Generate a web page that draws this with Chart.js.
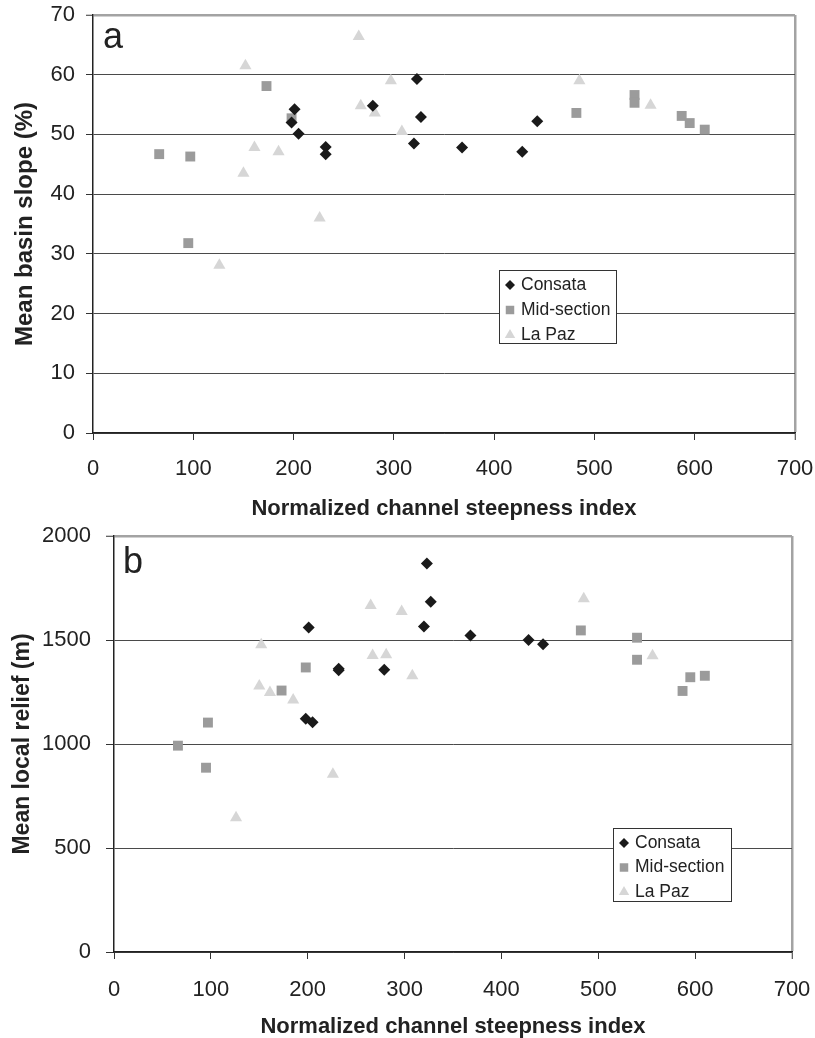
<!DOCTYPE html>
<html>
<head>
<meta charset="utf-8">
<script src="https://cdn.jsdelivr.net/npm/chart.js@4"></script>
<style>
  body { margin: 0; background: #fff; }
  canvas { display: block; }
</style>
</head>
<body>
<canvas id="slopeChart" width="815" height="520"></canvas>
<canvas id="reliefChart" width="815" height="518"></canvas>
<script>
// normalized channel steepness (same basins in both panels)
var consataKsn = [198, 201, 205, 232, 232, 279, 320, 323, 327, 368, 428, 443];
var consataSlope = [52.0, 54.2, 50.1, 47.9, 46.7, 54.8, 48.5, 59.3, 52.9, 47.8, 47.1, 52.2];
var consataRelief = [1121, 1560, 1105, 1362, 1355, 1357, 1565, 1868, 1684, 1522, 1500, 1480];

var midKsn = [66, 97, 95, 173, 198, 482, 540, 540, 587, 595, 610];
var midSlope = [46.7, 46.3, 31.8, 58.1, 52.7, 53.6, 56.6, 55.3, 53.1, 51.9, 50.8];
var midRelief = [992, 1103, 886, 1257, 1368, 1546, 1511, 1405, 1255, 1321, 1328];

var lapazKsn = [126, 150, 152, 161, 185, 226, 265, 267, 281, 297, 308, 485, 556];
var lapazSlope = [28.1, 43.5, 61.5, 47.8, 47.1, 36.0, 66.4, 54.8, 53.6, 59.0, 50.5, 59.0, 54.9];
var lapazRelief = [645, 1279, 1477, 1247, 1212, 855, 1666, 1425, 1429, 1637, 1328, 1698, 1424];

var seriesNames = ['Consata', 'Mid-section', 'La Paz'];
var xTitle = 'Normalized channel steepness index';

function pts(xs, ys) {
    return xs.map(function (x, i) { return { x: x, y: ys[i] }; });
}

function makeDatasets(a, b, c) {
    return [
        { label: seriesNames[0], data: a, pointStyle: 'rectRot', pointRadius: 6, backgroundColor: '#1a1a1a', borderWidth: 0 },
        { label: seriesNames[1], data: b, pointStyle: 'rect', pointRadius: 7, backgroundColor: '#9b9b9b', borderWidth: 0 },
        { label: seriesNames[2], data: c, pointStyle: 'triangle', pointRadius: 7, backgroundColor: '#d6d6d6', borderWidth: 0 }
    ];
}

// panel letter + boxed legend drawn inside the plot
var insetPlugin = {
    id: 'inset',
    afterDraw: function (chart, args, o) {
        var ctx = chart.ctx;
        ctx.save();
        ctx.fillStyle = '#222';
        ctx.font = '36px "Liberation Sans", Arial, sans-serif';
        ctx.textBaseline = 'alphabetic';
        ctx.fillText(o.letter, o.letterX, o.letterY);

        ctx.fillStyle = '#fff';
        ctx.fillRect(o.box[0], o.box[1], o.box[2], o.box[3]);
        ctx.strokeStyle = '#333';
        ctx.lineWidth = 1;
        ctx.strokeRect(o.box[0] + 0.5, o.box[1] + 0.5, o.box[2], o.box[3]);

        ctx.font = '17.5px "Liberation Sans", Arial, sans-serif';
        ctx.textBaseline = 'middle';
        chart.data.datasets.forEach(function (ds, i) {
            var y = o.rowY + i * o.rowGap;
            ctx.fillStyle = ds.backgroundColor;
            Chart.helpers.drawPoint(ctx, { pointStyle: ds.pointStyle, radius: ds.pointRadius - 1, rotation: 0, borderWidth: 0 }, o.markX, y);
            ctx.fillStyle = '#222';
            ctx.fillText(ds.label, o.textX, y);
        });
        ctx.restore();
    }
};

function noPad(s) {
    s.paddingTop = 0; s.paddingBottom = 0; s.paddingLeft = 0; s.paddingRight = 0;
}

function buildChart(id, datasets, cfg) {
    var tickFont = { family: '"Liberation Sans", Arial, sans-serif', size: 22 };
    return new Chart(document.getElementById(id), {
        type: 'scatter',
        data: { datasets: datasets },
        plugins: [insetPlugin],
        options: {
            responsive: false,
            animation: false,
            layout: { padding: { left: 0, right: cfg.padRight, top: cfg.padTop, bottom: 0 } },
            plugins: {
                legend: { display: false },
                tooltip: { enabled: false },
                inset: cfg.inset
            },
            scales: {
                x: {
                    type: 'linear', min: 0, max: 700,
                    ticks: { stepSize: 100, color: '#222', font: tickFont, padding: cfg.xPad, maxRotation: 0,
                        callback: function (v) { return String(v); } },
                    grid: {
                        color: function (c) { return c.tick && c.tick.value === 700 ? '#a3a3a3' : 'rgba(0,0,0,0)'; },
                        lineWidth: function (c) { return c.tick && c.tick.value === 700 ? 2.5 : 1; },
                        tickColor: '#333', tickLength: 7, tickWidth: 1
                    },
                    border: { color: '#222', width: 1.5 },
                    title: {
                        display: true, text: xTitle, color: '#222',
                        font: { family: '"Liberation Sans", Arial, sans-serif', size: 22, weight: 'bold', lineHeight: 1 },
                        padding: { top: 0, bottom: 0 }
                    },
                    afterFit: function (s) { s.height = cfg.xHeight; noPad(s); }
                },
                y: {
                    min: 0, max: cfg.yMax,
                    ticks: { stepSize: cfg.yStep, color: '#222', font: tickFont, padding: cfg.yPad,
                        callback: function (v) { return String(v); } },
                    grid: {
                        color: function (c) { return c.tick && c.tick.value === cfg.yMax ? '#a3a3a3' : '#4a4a4a'; },
                        lineWidth: function (c) { return c.tick && c.tick.value === cfg.yMax ? 2.5 : 1; },
                        tickColor: '#333', tickLength: cfg.yTick, tickWidth: 1
                    },
                    border: { color: '#222', width: 1.5 },
                    title: {
                        display: true, text: cfg.yTitle, color: '#222',
                        font: { family: '"Liberation Sans", Arial, sans-serif', size: cfg.yTitleSize, weight: 'bold', lineHeight: 1 },
                        padding: { top: cfg.yTitlePad, bottom: 0 }
                    },
                    afterFit: function (s) { s.width = cfg.yWidth; noPad(s); }
                }
            }
        }
    });
}

buildChart('slopeChart',
    makeDatasets(pts(consataKsn, consataSlope), pts(midKsn, midSlope), pts(lapazKsn, lapazSlope)),
    {
        yMax: 70, yStep: 10, yTitle: 'Mean basin slope (%)', yTitleSize: 24, yTitlePad: 13,
        yWidth: 93, yTick: 7, yPad: 11, xHeight: 87, xPad: 16, padTop: 15, padRight: 20,
        inset: { letter: 'a', letterX: 103, letterY: 48, box: [499, 270, 117, 73], rowY: 285, rowGap: 25, markX: 510, textX: 521 }
    });

buildChart('reliefChart',
    makeDatasets(pts(consataKsn, consataRelief), pts(midKsn, midRelief), pts(lapazKsn, lapazRelief)),
    {
        yMax: 2000, yStep: 500, yTitle: 'Mean local relief (m)', yTitleSize: 23, yTitlePad: 11.5,
        yWidth: 114, yTick: 8, yPad: 15, xHeight: 86, xPad: 18, padTop: 16, padRight: 23,
        inset: { letter: 'b', letterX: 123, letterY: 53, box: [613, 308, 118, 73], rowY: 323, rowGap: 24.5, markX: 624, textX: 635 }
    });
</script>
</body>
</html>
